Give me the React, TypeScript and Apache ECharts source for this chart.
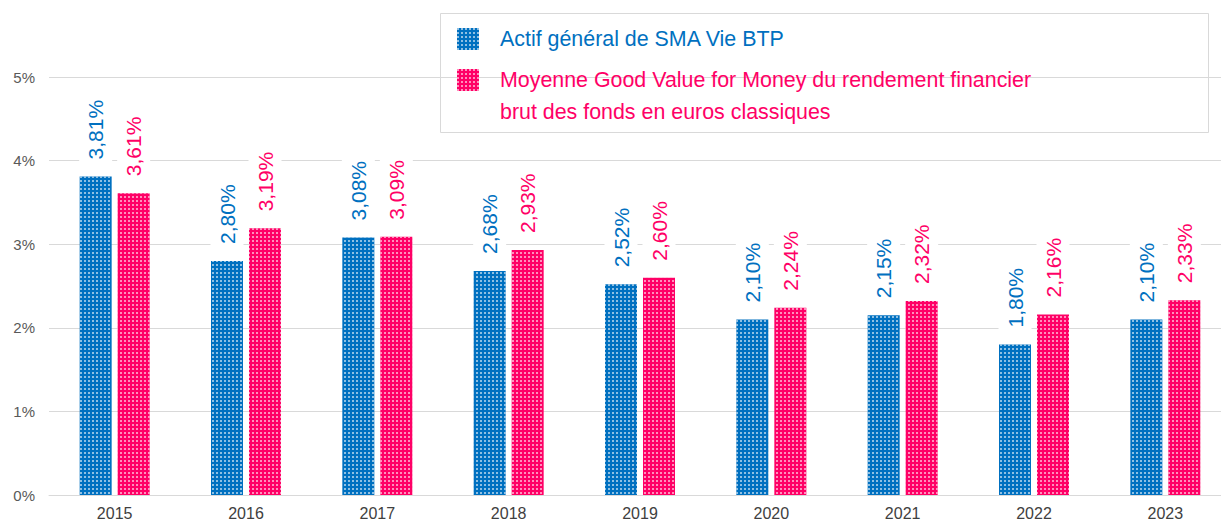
import React, { useEffect, useRef } from "react";
import * as echarts from "echarts";

const years = ["2015", "2016", "2017", "2018", "2019", "2020", "2021", "2022", "2023"];
const actifValues = [3.81, 2.8, 3.08, 2.68, 2.52, 2.1, 2.15, 1.8, 2.1];
const moyenneValues = [3.61, 3.19, 3.09, 2.93, 2.6, 2.24, 2.32, 2.16, 2.33];
const yTicks = [0, 1, 2, 3, 4, 5];

const seriesNames = [
  "Actif général de SMA Vie BTP",
  "Moyenne Good Value for Money du rendement financier brut des fonds en euros classiques",
];
const legendLine1 = "Moyenne Good Value for Money du rendement financier";
const legendLine2 = "brut des fonds en euros classiques";

const BLUE = "#0070C0";
const PINK = "#FF0066";
const FONT = "'Liberation Sans', Arial, sans-serif";

const fmt = (v: number) => v.toFixed(2).replace(".", ",") + "%";

const decal = {
  symbol: "rect",
  symbolSize: 0.75,
  color: "#ffffff",
  dashArrayX: [2, 2],
  dashArrayY: [2, 2],
  rotation: 0,
};

export default function App() {
  const ref = useRef<HTMLDivElement>(null);
  useEffect(() => {
    if (!ref.current) return;
    const chart = echarts.init(ref.current, null, { renderer: "svg" });
    const mkLabel = (color: string) => ({
      show: true,
      position: "top",
      rotate: 90,
      align: "left",
      verticalAlign: "middle",
      distance: 13,
      color,
      fontSize: 21,
      fontFamily: FONT,
      backgroundColor: "#ffffff",
      padding: [6, 4],
      formatter: (p: any) => fmt(p.value),
    });
    chart.setOption({
      animation: false,
      textStyle: { fontFamily: FONT },
      grid: { left: 49, width: 1182, top: 77, bottom: 26, containLabel: false },
      legend: {
        orient: "vertical",
        left: 457,
        top: 28,
        padding: 0,
        itemWidth: 22,
        itemHeight: 22,
        itemGap: 19,
        icon: "rect",
        selectedMode: false,
        data: [
          { name: seriesNames[0], textStyle: { color: BLUE } },
          { name: seriesNames[1], textStyle: { color: PINK } },
        ],
        formatter: (name: string) => (name === seriesNames[1] ? legendLine1 : name),
        textStyle: { fontSize: 21.4, fontFamily: FONT, padding: [0, 0, 0, 16] },
      },
      graphic: [
        {
          type: "rect",
          shape: { x: 440.5, y: 13.5, width: 768, height: 119 },
          style: { fill: "none", stroke: "#d9d9d9", lineWidth: 1 },
          z: -1,
        },
        {
          type: "text",
          x: 500,
          y: 112,
          style: {
            text: legendLine2,
            fill: PINK,
            font: `21.4px ${FONT}`,
            textVerticalAlign: "middle",
          },
        },
      ],
      xAxis: {
        type: "category",
        data: years,
        axisLine: { lineStyle: { color: "#d9d9d9" } },
        axisTick: { show: false },
        axisLabel: { color: "#404040", fontSize: 16, margin: 10, fontFamily: FONT },
      },
      yAxis: {
        type: "value",
        min: yTicks[0],
        max: yTicks[yTicks.length - 1],
        interval: 1,
        axisLine: { show: false },
        axisTick: { show: false },
        splitLine: { lineStyle: { color: "#d9d9d9" } },
        axisLabel: {
          color: "#595959",
          fontSize: 15,
          margin: 14,
          fontFamily: FONT,
          formatter: (v: number) => `${v}%`,
        },
      },
      series: [
        {
          name: seriesNames[0],
          type: "bar",
          data: actifValues,
          barWidth: 32,
          barGap: "18.75%",
          itemStyle: { color: BLUE, decal },
          label: mkLabel(BLUE),
        },
        {
          name: seriesNames[1],
          type: "bar",
          data: moyenneValues,
          barWidth: 32,
          barGap: "18.75%",
          itemStyle: { color: PINK, decal },
          label: mkLabel(PINK),
        },
      ],
    });
    return () => chart.dispose();
  }, []);
  return (
    <div
      style={{
        position: "absolute",
        left: 0,
        top: 0,
        width: 1221,
        height: 521,
        overflow: "hidden",
        background: "#fff",
      }}
    >
      <div ref={ref} style={{ width: 1240, height: 521 }} />
    </div>
  );
}
